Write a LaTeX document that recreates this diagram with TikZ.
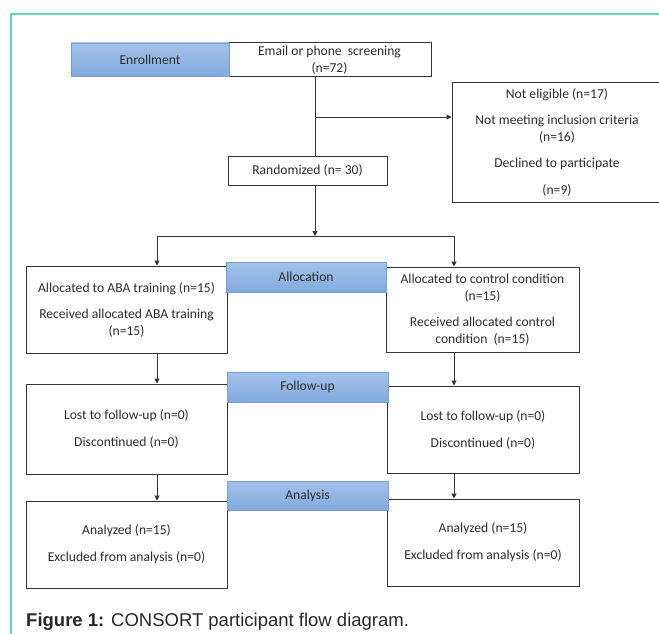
\documentclass[tikz,border=0pt]{standalone}
\usepackage{fontspec}
\setmainfont{Carlito}
\newfontfamily\capfont{Liberation Sans}
\usetikzlibrary{positioning}
\usetikzlibrary{arrows.meta}
\definecolor{frameteal}{RGB}{100,212,194}
\definecolor{stagetop}{RGB}{164,194,234}
\definecolor{stagebot}{RGB}{130,170,222}
\definecolor{stageedge}{RGB}{118,158,208}
\definecolor{boxline}{RGB}{50,50,50}
\definecolor{inktext}{RGB}{45,45,45}
\definecolor{captext}{RGB}{40,40,40}
\tikzset{flow/.style = {draw=boxline, line width=1pt, fill=white, inner sep=0,
                        align=center, text=inktext,
                        font=\fontsize{13.6}{17}\selectfont}}
\tikzset{stage/.style = {draw=stageedge, line width=0.8pt,
                         top color=stagetop, bottom color=stagebot,
                         inner sep=0, text=inktext,
                         font=\fontsize{13.6}{15}\selectfont}}
\tikzset{flowline/.style = {draw=boxline, line width=1pt}}
\tikzset{flowarrow/.style = {flowline, -{Triangle[length=5pt,width=5pt]}}}

\begin{document}
\begin{tikzpicture}[x=1pt, y=-1pt]
  \useasboundingbox (0,0) rectangle (659,634);
  \draw[frameteal, line width=1.2pt] (11,634) -- (11,14) -- (659,14);
  % boxes
  \node[flow, minimum width=203, minimum height=34] (screen) at (329.5,60)
    {Email or phone\ \ screening\\(n=72)};
  \node[flow, minimum width=210, minimum height=119] (noteligible) at (557,142.5)
    {Not eligible (n=17)\\[9pt]Not meeting inclusion criteria\\(n=16)\\[9pt]%
     Declined to participate\\[10pt](n=9)};
  \node[flow, minimum width=159, minimum height=29] (random) at (307.5,170.5)
    {Randomized (n= 30)};
  \node[flow, minimum width=201, minimum height=87] (allocA) at (126.5,309.5)
    {Allocated to ABA training (n=15)\\[9pt]Received allocated ABA training\\(n=15)};
  \node[flow, minimum width=193, minimum height=85] (allocB) at (482.5,309.5)
    {Allocated to control condition\\(n=15)\\[9pt]Received allocated control\\%
     condition\ \ (n=15)};
  \node[flow, minimum width=201, minimum height=90] (followA) at (126.5,429)
    {Lost to follow-up (n=0)\\[10pt]Discontinued (n=0)};
  \node[flow, minimum width=192, minimum height=87] (followB) at (483,429.5)
    {Lost to follow-up (n=0)\\[10pt]Discontinued (n=0)};
  \node[flow, minimum width=201, minimum height=87] (analysisA) at (126.5,544.5)
    {Analyzed (n=15)\\[10pt]Excluded from analysis (n=0)};
  \node[flow, minimum width=192, minimum height=87] (analysisB) at (483,542.5)
    {Analyzed (n=15)\\[10pt]Excluded from analysis (n=0)};
  % stage labels
  \node[stage, minimum width=158, minimum height=33] (enroll) at (150,59.5)
    {Enrollment};
  \node[stage, minimum width=160, minimum height=30] (allocation) at (306,277)
    {Allocation};
  \node[stage, minimum width=161, minimum height=30] (followup) at (307.5,387)
    {Follow-up};
  \node[stage, minimum width=161, minimum height=29] (analysis) at (307.5,495.5)
    {Analysis};
  % connectors
  \coordinate (trunk) at (315,117);
  \coordinate (split) at (315,236);
  \coordinate (splitL) at (157,236);
  \coordinate (splitR) at (454,236);
  \draw[flowline] (screen.south -| trunk) -- (random.north -| trunk);
  \draw[flowarrow] (trunk) -- (trunk -| noteligible.west);
  \draw[flowarrow] (random.south -| split) -- (split);
  \draw[flowline] (splitL) -- (splitR);
  \draw[flowarrow] (splitL) -- (splitL |- allocA.north);
  \draw[flowarrow] (splitR) -- (splitR |- allocB.north);
  \draw[flowarrow] (allocA.south -| splitL) -- (followA.north -| splitL);
  \draw[flowarrow] (allocB.south -| splitR) -- (followB.north -| splitR);
  \draw[flowarrow] (followA.south -| splitL) -- (analysisA.north -| splitL);
  \draw[flowarrow] (followB.south -| splitR) -- (analysisB.north -| splitR);
  % caption
  \node[anchor=base west, inner sep=0, text=captext,
        font=\capfont\fontsize{18.5}{20}\selectfont] (caption) at (26,626)
    {\textbf{Figure 1:} CONSORT participant flow diagram.};
\end{tikzpicture}
\end{document}
